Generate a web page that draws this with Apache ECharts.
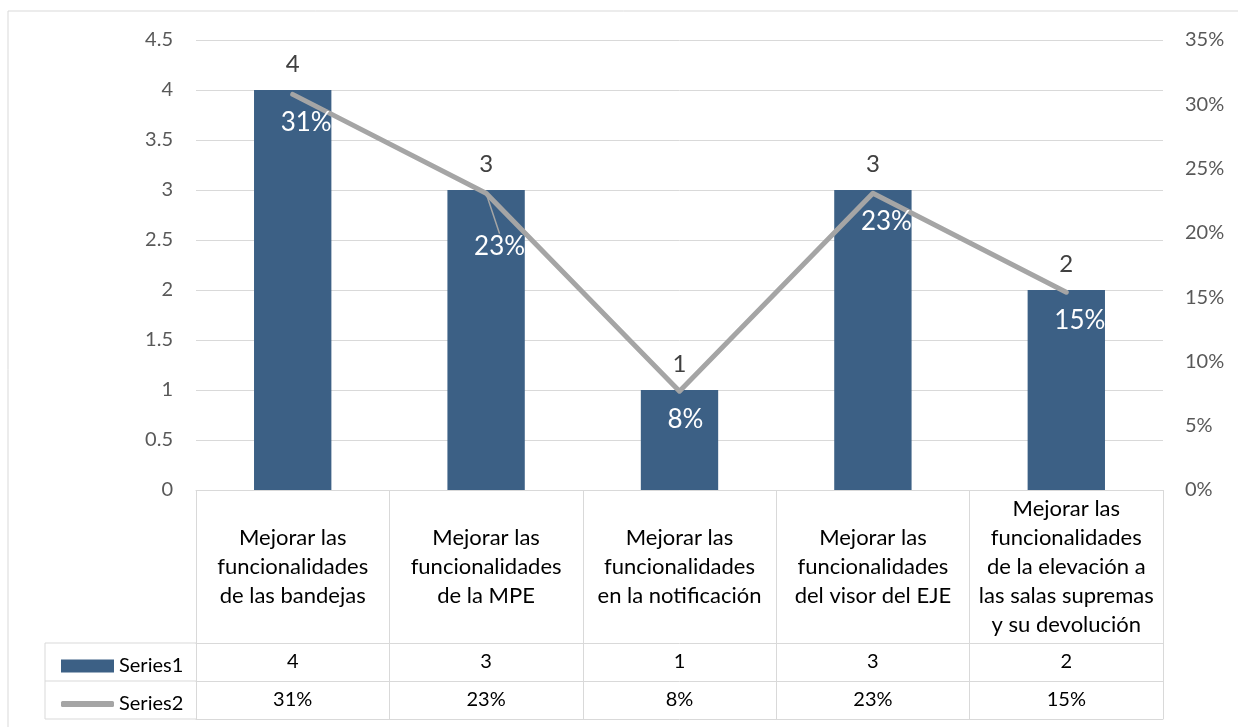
<!DOCTYPE html>
<html>
<head>
<meta charset="utf-8">
<script src="https://cdn.jsdelivr.net/npm/echarts@6/dist/echarts.min.js"></script>
<style>
html,body{margin:0;padding:0;background:#fff;}
#c{width:1238px;height:727px;}
</style>
</head>
<body>
<div id="c"></div>
<script>
const categories = [
  "Mejorar las\nfuncionalidades\nde las bandejas",
  "Mejorar las\nfuncionalidades\nde la MPE",
  "Mejorar las\nfuncionalidades\nen la notificación",
  "Mejorar las\nfuncionalidades\ndel visor del EJE",
  "Mejorar las\nfuncionalidades\nde la elevación a\nlas salas supremas\ny su devolución"
];
const series1Name = "Series1";
const series2Name = "Series2";
const series1 = [4, 3, 1, 3, 2];
const series2 = [0.3077, 0.2308, 0.0769, 0.2308, 0.1538];
const leftTicks = { min: 0, max: 4.5, interval: 0.5 };
const rightTicks = { min: 0, max: 0.35, interval: 0.05 };

const FONT = "Lato";
const pct = v => Math.round(v * 100) + "%";
const BAR = "#3c6085", LINE = "#a5a5a5", GRID = "#d9d9d9";

const chart = echarts.init(document.getElementById("c"));
const extraAxis = {
  show: true, type: "category", gridIndex: 0, position: "bottom",
  axisTick: { show: false }, splitLine: { show: false },
  axisLine: { show: true, onZero: false, lineStyle: { color: GRID, width: 1 } }
};
const idx = series1.map((_, i) => String(i));
const legendText = { fontFamily: FONT, fontSize: 20, color: "#000", padding: [0, 0, 0, 0] };
chart.setOption({
  animation: false,
  textStyle: { fontFamily: FONT },
  grid: { left: 196, right: 75, top: 40, bottom: 237, containLabel: false },
  legend: [
    { data: [{ name: series1Name, icon: "rect" }], left: 56, top: 651, itemWidth: 53, itemHeight: 13, itemGap: 0,
      textStyle: legendText, selectedMode: false },
    { data: [{ name: series2Name, icon: "roundRect" }], left: 56, top: 689, itemWidth: 53, itemHeight: 6, itemGap: 0,
      textStyle: legendText, selectedMode: false }
  ],
  xAxis: [
    { type: "category", data: categories, gridIndex: 0, position: "bottom",
      axisLine: { show: true, onZero: false, lineStyle: { color: GRID, width: 1 } },
      axisTick: { show: true, length: 229, alignWithLabel: false, lineStyle: { color: GRID, width: 1 } },
      axisLabel: { interval: 0, margin: 77, verticalAlign: "middle", lineHeight: 29,
        fontFamily: FONT, fontSize: 22, color: "#000" } },
    Object.assign({}, extraAxis, { data: idx, offset: 153,
      axisLabel: { interval: 0, margin: 19, verticalAlign: "middle", fontFamily: FONT, fontSize: 20, color: "#000",
        formatter: (v, i) => String(series1[i]) } }),
    Object.assign({}, extraAxis, { data: idx, offset: 191,
      axisLabel: { interval: 0, margin: 19, verticalAlign: "middle", fontFamily: FONT, fontSize: 20, color: "#000",
        formatter: (v, i) => pct(series2[i]) } }),
    Object.assign({}, extraAxis, { data: idx, offset: 229, axisLabel: { show: false } })
  ],
  yAxis: [
    { type: "value", min: leftTicks.min, max: leftTicks.max, interval: leftTicks.interval,
      axisLine: { show: false }, axisTick: { show: false },
      splitLine: { show: true, lineStyle: { color: GRID, width: 1 } },
      axisLabel: { margin: 23, fontFamily: FONT, fontSize: 20, color: "#595959" } },
    { type: "value", min: rightTicks.min, max: rightTicks.max, interval: rightTicks.interval,
      axisLine: { show: false }, axisTick: { show: false }, splitLine: { show: false },
      axisLabel: { margin: 22, fontFamily: FONT, fontSize: 20, color: "#595959", formatter: v => pct(v) } }
  ],
  series: [
    { name: series1Name, type: "bar", data: series1, barWidth: "40%", xAxisIndex: 0, yAxisIndex: 0,
      itemStyle: { color: BAR },
      label: { show: true, position: "top", distance: 14, fontFamily: FONT, fontSize: 24, color: "#404040" } },
    { name: series2Name, type: "line", xAxisIndex: 0, yAxisIndex: 1,
      data: series2.map((v, i) => (i === 1 ? { value: v, labelLine: { show: true } } : { value: v, labelLine: { show: false } })),
      showSymbol: true, symbol: "circle", symbolSize: 1,
      lineStyle: { color: LINE, width: 5, cap: "round", join: "round" },
      itemStyle: { color: LINE },
      label: { show: true, position: "bottom", distance: 15, align: "left", lineHeight: 26,
        fontFamily: FONT, fontSize: 26, color: "#fff", formatter: p => pct(p.value) },
      labelLayout: p => ({ dx: -12, dy: p.dataIndex === 1 ? 25 : 0 }),
      labelLine: { show: false, lineStyle: { color: LINE, width: 1.5 } },
      z: 3 }
  ],
  graphic: [
    { type: "rect", shape: { x: 8, y: 11, width: 1240, height: 730 }, style: { fill: null, stroke: GRID, lineWidth: 1 }, silent: true },
    { type: "line", shape: { x1: 45, y1: 643, x2: 196, y2: 643 }, style: { stroke: GRID, lineWidth: 1 } },
    { type: "line", shape: { x1: 45, y1: 681, x2: 196, y2: 681 }, style: { stroke: GRID, lineWidth: 1 } },
    { type: "line", shape: { x1: 45, y1: 719, x2: 196, y2: 719 }, style: { stroke: GRID, lineWidth: 1 } },
    { type: "line", shape: { x1: 45, y1: 643, x2: 45, y2: 719 }, style: { stroke: GRID, lineWidth: 1 } }
  ]
});
</script>
</body>
</html>
